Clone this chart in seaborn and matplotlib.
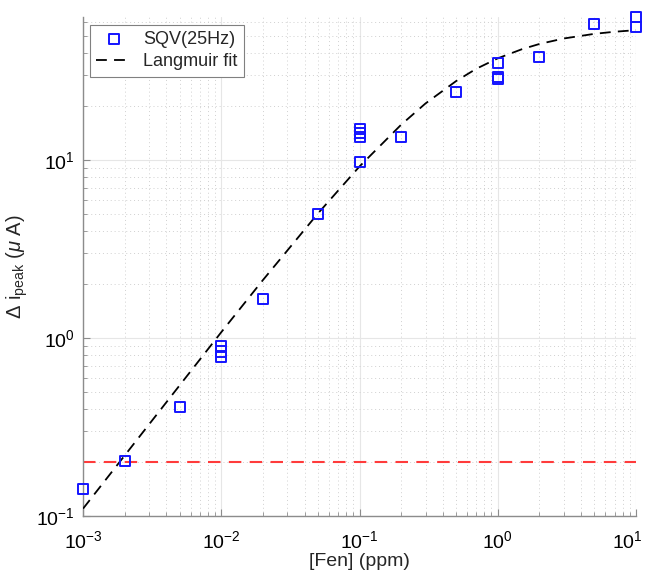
import matplotlib
matplotlib.use("Agg")
import matplotlib.pyplot as plt
import matplotlib.transforms as mtransforms
import seaborn as sns
import pandas as pd
from matplotlib.ticker import LogLocator, NullFormatter

# Measured peak current change vs. concentration
conc = [1e-3, 2e-3, 5e-3, 1e-2, 1e-2, 1e-2, 2e-2, 5e-2,
        1e-1, 1e-1, 1e-1, 1e-1, 2e-1, 5e-1, 1, 1, 1, 2, 5, 10, 10]
di_peak = [0.142, 0.204, 0.41, 0.90, 0.84, 0.78, 1.66, 5.0,
           15.0, 14.2, 13.5, 9.8, 13.5, 24.1, 35.0, 29.4, 28.4, 37.9, 58.1, 63.5, 55.8]

# Langmuir fit curve values
fit_conc = [1e-3, 1e-2, 2e-2, 5e-2, 1e-1, 2e-1, 3e-1, 5e-1, 7e-1,
            1, 1.5, 2, 3, 5, 7, 10]
fit_di = [0.11, 1.079, 2.117, 5.01, 9.21, 15.8, 20.8, 27.8, 32.6,
          37.3, 42.0, 44.9, 48.2, 51.2, 52.6, 53.7]

# Detection threshold
threshold = 0.2

# Decade ticks
x_ticks = [1e-3, 1e-2, 1e-1, 1, 10]
y_ticks = [0.1, 1, 10]

sns.set_style("white")
plt.rcParams["font.family"] = ["Liberation Sans", "DejaVu Sans"]
plt.rcParams["mathtext.fontset"] = "custom"
plt.rcParams["mathtext.rm"] = "Liberation Sans"
plt.rcParams["mathtext.it"] = "Liberation Sans:italic"
plt.rcParams["mathtext.bf"] = "Liberation Sans:bold"

fig = plt.figure(figsize=(6.49, 5.73), dpi=100)
ax = fig.add_axes([0.128, 0.0995, 0.852, 0.8705])

points = pd.DataFrame({"conc": conc, "di": di_peak})
fit = pd.DataFrame({"conc": fit_conc, "di": fit_di})

ax.set_xscale("log")
ax.set_yscale("log")

ax.axhline(threshold, color="#ff3b3b", lw=1.5, ls=(0, (6, 4)), zorder=2)
sns.lineplot(data=fit, x="conc", y="di", ax=ax, color="black", lw=1.3,
             linestyle=(0, (6, 4)), sort=False, estimator=None,
             label="Langmuir fit", zorder=3)
sns.scatterplot(data=points, x="conc", y="di", ax=ax, marker="s", s=52,
                facecolor="none", edgecolor="#1414ff", linewidth=1.4,
                label="SQV(25Hz)", zorder=4, clip_on=False)

ax.set_xticks(x_ticks)
ax.set_yticks(y_ticks)
ax.xaxis.set_minor_locator(LogLocator(base=10, subs=range(2, 10), numticks=20))
ax.yaxis.set_minor_locator(LogLocator(base=10, subs=range(2, 10), numticks=20))
ax.xaxis.set_minor_formatter(NullFormatter())
ax.yaxis.set_minor_formatter(NullFormatter())
ax.set_xlim(1e-3, 10)
ax.set_ylim(0.1, 63.5)

# Grid: solid major, dotted minor
ax.grid(True, which="major", color="#e6e6e6", lw=0.8, ls="-")
ax.grid(True, which="minor", color="#d0d0d0", lw=0.7, ls=(0, (1, 3)))
ax.set_axisbelow(True)

for side in ("top", "right"):
    ax.spines[side].set_visible(False)
for side in ("left", "bottom"):
    ax.spines[side].set_color("#8c8c8c")
    ax.spines[side].set_linewidth(1.0)

ax.tick_params(which="major", direction="in", length=5, color="#8c8c8c",
               labelsize=14, labelcolor="black", left=True, bottom=True)
ax.tick_params(axis="x", which="major", pad=10)
ax.tick_params(axis="y", which="major", pad=6)
ax.tick_params(which="minor", direction="in", length=3, color="#8c8c8c",
               left=True, bottom=True)

ax.set_xlabel("[Fen] (ppm)", fontsize=14, labelpad=1)
ax.set_ylabel(r"$\Delta$ i$_{\rm peak}$ ($\mu$ A)", fontsize=14.5, labelpad=4)

handles, labels = ax.get_legend_handles_labels()
order = [labels.index("SQV(25Hz)"), labels.index("Langmuir fit")]
leg = ax.legend([handles[i] for i in order], [labels[i] for i in order],
                loc="upper left", bbox_to_anchor=(0.012, 0.985),
                fontsize=13, frameon=True, fancybox=False,
                edgecolor="#808080", framealpha=1, borderpad=0.35,
                handlelength=2.0, handletextpad=0.6, labelspacing=0.3,
                borderaxespad=0)
leg.get_frame().set_linewidth(0.8)

# Nudge the rightmost x tick label inward so it stays on the canvas
fig.canvas.draw()
last = ax.xaxis.get_major_ticks()[-1].label1
last.set_transform(last.get_transform() +
                   mtransforms.ScaledTranslation(-9 / 100, 0, fig.dpi_scale_trans))

fig.savefig("out.png", dpi=100)
